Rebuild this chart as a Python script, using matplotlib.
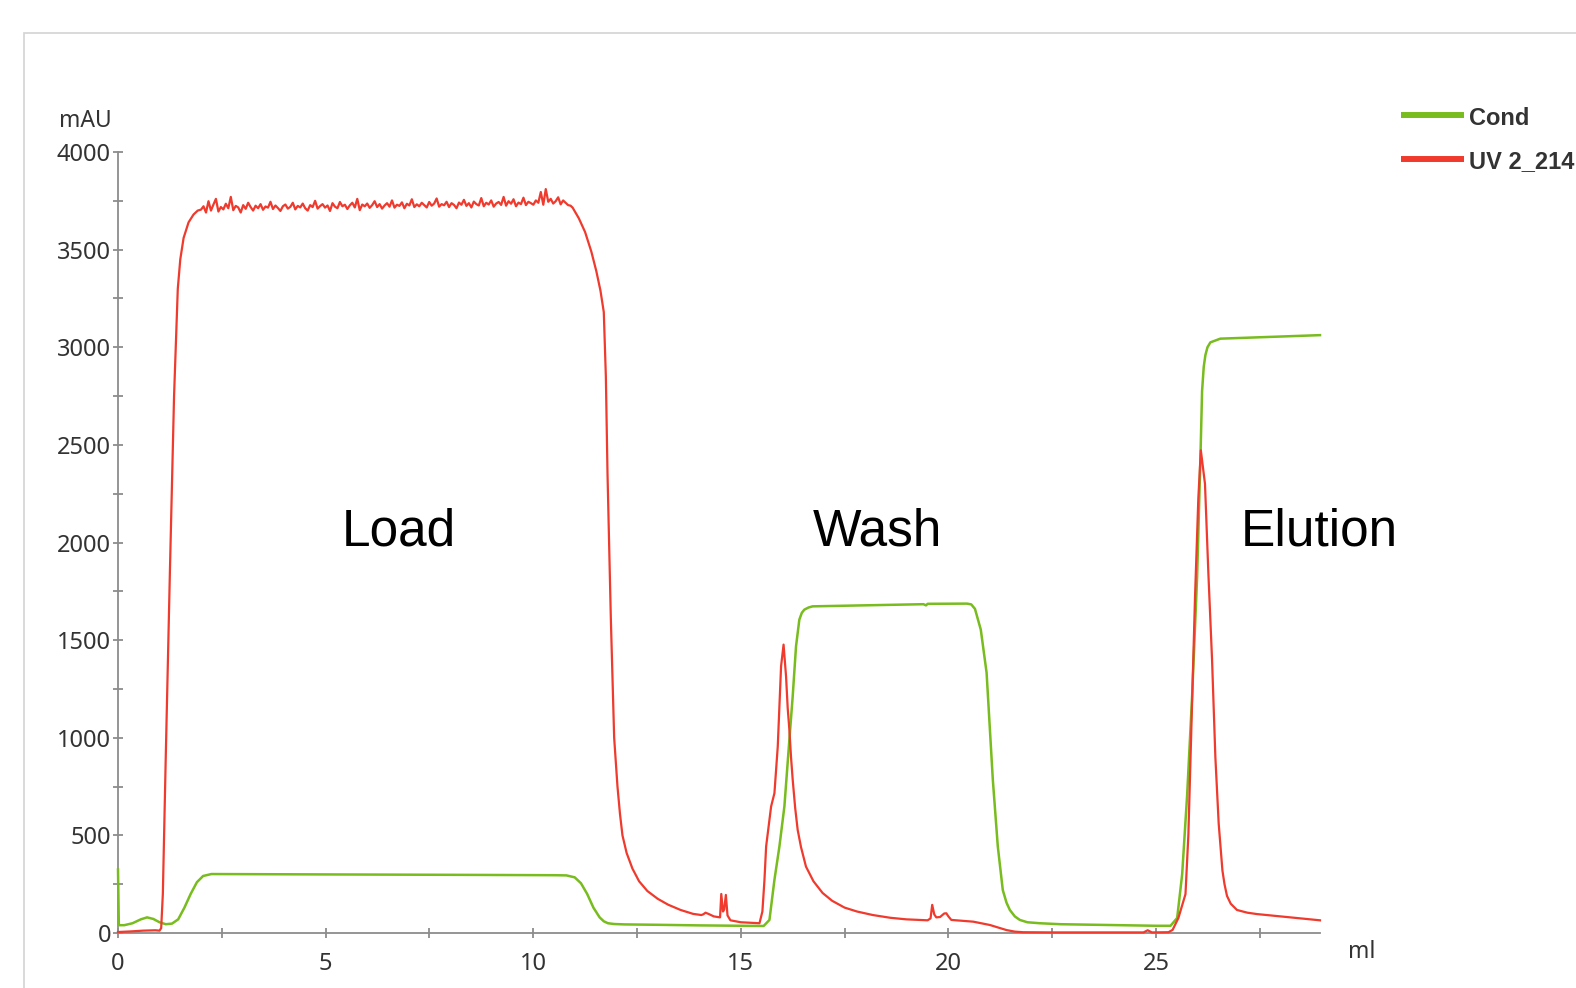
#!/usr/bin/env python3
"""
Chromatogram: Load / Wash / Elution (UV 2_214 and Cond traces)
"""

import numpy as np
import matplotlib
matplotlib.use('Agg')
import matplotlib.pyplot as plt
from matplotlib.lines import Line2D
from matplotlib.patches import Rectangle

GREEN = '#78bc1e'
RED = '#ef3a2d'
AXIS_GRAY = '#8c8c8c'
TEXT_DARK = '#333333'
FRAME_GRAY = '#d3d3d3'

# UV 2_214 trace (ml, mAU) - before the load plateau
uv_ml_start = [0, 0.3, 0.6, 0.9, 1.0, 1.04, 1.08, 1.15, 1.25, 1.35, 1.44, 1.5,
               1.58, 1.7, 1.82, 1.92]
uv_mau_start = [5, 8, 12, 14, 12, 25, 200, 900, 1850, 2750, 3300, 3450,
                3560, 3640, 3680, 3700]

# load plateau, 2.0 .. 10.9 ml, read point by point (noisy signal)
uv_plateau_mau = [
    3705, 3722, 3690, 3748, 3700, 3731, 3760, 3695, 3718, 3706, 3735, 3712, 3770, 3702, 3724,
    3716, 3690, 3728, 3709, 3740, 3718, 3700, 3725, 3712, 3733, 3704, 3721, 3715, 3745, 3708,
    3726, 3713, 3698, 3722, 3731, 3710, 3719, 3740, 3706, 3724, 3716, 3736, 3712, 3700, 3728,
    3718, 3750, 3710, 3723, 3733, 3715, 3726, 3698, 3738, 3720, 3712, 3744, 3722, 3730, 3708,
    3727, 3740, 3716, 3760, 3702, 3731, 3722, 3736, 3714, 3728, 3748, 3718, 3733, 3710, 3726,
    3738, 3720, 3752, 3715, 3730, 3724, 3742, 3712, 3735, 3726, 3758, 3718, 3732, 3722, 3740,
    3728, 3716, 3744, 3725, 3736, 3762, 3720, 3733, 3727, 3745, 3718, 3738, 3729, 3712, 3741,
    3730, 3755, 3724, 3738, 3716, 3746, 3733, 3726, 3764, 3722, 3740, 3731, 3752, 3720, 3736,
    3744, 3729, 3770, 3725, 3748, 3735, 3758, 3722, 3741, 3733, 3766, 3728, 3745, 3738, 3730,
    3752, 3740, 3795, 3730, 3810, 3745, 3760, 3736, 3748, 3768, 3732, 3752, 3740, 3728, 3725,
]
uv_plateau_range = (2.0, 10.9)

# after the plateau: fall, wash peak, elution peak
uv_ml_end = [10.95, 11.1, 11.25, 11.4, 11.52, 11.62, 11.7, 11.75, 11.79, 11.87,
             11.95, 12.03, 12.09, 12.15, 12.25, 12.39, 12.55, 12.75, 13.0, 13.25,
             13.55, 13.85, 14.05, 14.1, 14.15, 14.22, 14.35, 14.5, 14.53, 14.57,
             14.6, 14.64, 14.68, 14.75, 15.0, 15.45, 15.52, 15.57, 15.61, 15.73,
             15.81, 15.89, 15.97, 16.03, 16.09, 16.13, 16.17, 16.21, 16.25, 16.31,
             16.37, 16.45, 16.57, 16.75, 16.97, 17.2, 17.5, 17.8, 18.18, 18.6,
             18.98, 19.5, 19.57, 19.61, 19.66, 19.71, 19.8, 19.9, 19.95, 20.0,
             20.07, 20.6, 21.0, 21.2, 21.4, 21.6, 21.8, 22.5, 24.7, 24.8,
             24.9, 25.3, 25.4, 25.54, 25.71, 25.78, 25.86, 25.94, 26.02, 26.08,
             26.18, 26.26, 26.35, 26.43, 26.51, 26.6, 26.65, 26.71, 26.8, 26.95,
             27.2, 27.43, 28.0, 28.95]
uv_mau_end = [3715, 3660, 3590, 3490, 3390, 3290, 3180, 2850, 2350, 1610,
              1000, 750, 610, 500, 410, 330, 265, 215, 175, 145,
              118, 98, 92, 96, 104, 98, 85, 80, 200, 110,
              120, 195, 90, 65, 55, 50, 110, 272, 443, 648,
              716, 955, 1366, 1477, 1314, 1150, 1041, 900, 785, 640,
              528, 440, 340, 265, 205, 165, 130, 110, 92, 78,
              70, 65, 75, 144, 95, 80, 82, 100, 101, 85,
              67, 58, 41, 28, 15, 7, 4, 3, 3, 14,
              3, 4, 16, 77, 199, 503, 1112, 1721, 2228, 2472,
              2300, 1850, 1400, 900, 560, 320, 250, 190, 150, 118,
              104, 97, 85, 65]

# Cond trace (ml, value on the same scale)
cond_ml = [0, 0.02, 0.15, 0.35, 0.55, 0.7, 0.85, 1.0, 1.15, 1.3,
           1.45, 1.6, 1.75, 1.9, 2.05, 2.25, 5.0, 8.0, 10.5, 10.8,
           11.0, 11.15, 11.3, 11.45, 11.6, 11.7, 11.8, 11.95, 12.2, 13.0,
           14.0, 15.0, 15.55, 15.69, 15.81, 15.93, 16.05, 16.17, 16.25, 16.33,
           16.41, 16.47, 16.53, 16.63, 16.73, 19.4, 19.46, 19.5, 20.45, 20.55,
           20.64, 20.78, 20.92, 21.0, 21.07, 21.19, 21.31, 21.4, 21.48, 21.6,
           21.72, 21.9, 22.2, 22.7, 25.0, 25.35, 25.51, 25.63, 25.75, 25.87,
           25.99, 26.07, 26.11, 26.15, 26.19, 26.24, 26.31, 26.55, 28.95]
cond_mau = [325, 40, 40, 50, 70, 80, 72, 55, 45, 48,
            70, 130, 200, 260, 292, 302, 300, 298, 296, 295,
            285, 255, 200, 130, 80, 60, 50, 46, 44, 42,
            39, 37, 36, 67, 272, 443, 648, 990, 1212, 1468,
            1605, 1640, 1656, 1667, 1673, 1684, 1678, 1686, 1687, 1683,
            1660, 1554, 1333, 1041, 785, 443, 220, 155, 118, 85,
            67, 55, 50, 45, 37, 37, 77, 300, 706, 1213,
            1822, 2431, 2776, 2900, 2960, 3000, 3025, 3044, 3062]

phase_labels = ['Load', 'Wash', 'Elution']
phase_left_px = [342, 813, 1241]
legend_labels = ['Cond', 'UV 2_214']

W, H = 1576, 988


def fx(px):
    return px / W


def fy(py):
    return 1 - py / H


uv_ml = np.concatenate([uv_ml_start,
                        np.linspace(*uv_plateau_range, len(uv_plateau_mau)),
                        uv_ml_end])
uv_mau = np.concatenate([uv_mau_start, uv_plateau_mau, uv_mau_end])

fig = plt.figure(figsize=(W / 100, H / 100), dpi=100)
fig.patch.set_facecolor('white')

# outer frame of the screenshot panel
fig.add_artist(Rectangle((fx(24), -0.5), 2, fy(33) + 0.5, transform=fig.transFigure,
                         facecolor='none', edgecolor=FRAME_GRAY, linewidth=1.2))

ax = fig.add_axes([fx(118), fy(933), fx(1320) - fx(118), fy(152) - fy(933)])
ax.plot(cond_ml, cond_mau, color=GREEN, lw=1.8, clip_on=False, zorder=3)
ax.plot(uv_ml, uv_mau, color=RED, lw=1.6, clip_on=False, zorder=4)

ax.set_xlim(0, 28.95)
ax.set_ylim(0, 4000)
ax.set_xticks(np.arange(0, 26, 5))
ax.set_xticks(np.arange(2.5, 28, 5), minor=True)
ax.set_yticks(np.arange(0, 4001, 500))
ax.set_yticks(np.arange(250, 4000, 500), minor=True)

for side in ['top', 'right']:
    ax.spines[side].set_visible(False)
for side in ['left', 'bottom']:
    ax.spines[side].set_color(AXIS_GRAY)
    ax.spines[side].set_linewidth(1.3)

ax.tick_params(which='both', direction='inout', length=7.2, width=1.3, color=AXIS_GRAY,
               labelsize=17, labelcolor=TEXT_DARK)
ax.tick_params(axis='y', pad=1.5)
ax.tick_params(axis='x', pad=10)
for lab in ax.get_xticklabels() + ax.get_yticklabels():
    lab.set_family('Noto Sans')

fig.text(fx(85), fy(121), 'mAU', fontsize=16.5, family='Noto Sans', color=TEXT_DARK,
         ha='center', va='center')
fig.text(fx(1362), fy(952), 'ml', fontsize=16.5, family='Noto Sans', color=TEXT_DARK,
         ha='center', va='center')

# phase annotations
for label, left in zip(phase_labels, phase_left_px):
    fig.text(fx(left), fy(545), label, fontsize=37, family='Liberation Sans',
             color='black', ha='left', va='baseline')

# legend (cut at the right edge as in the screenshot)
for label, color, y_line, y_base in zip(legend_labels, [GREEN, RED], [115, 159], [125, 168]):
    fig.add_artist(Line2D([fx(1401), fx(1464)], [fy(y_line)] * 2, transform=fig.transFigure,
                          color=color, lw=4.3, solid_capstyle='butt'))
    fig.text(fx(1469), fy(y_base), label, fontsize=17, family='Liberation Sans',
             fontweight='bold', color=TEXT_DARK, ha='left', va='baseline')

fig.savefig('out.png', dpi=100, facecolor='white')
